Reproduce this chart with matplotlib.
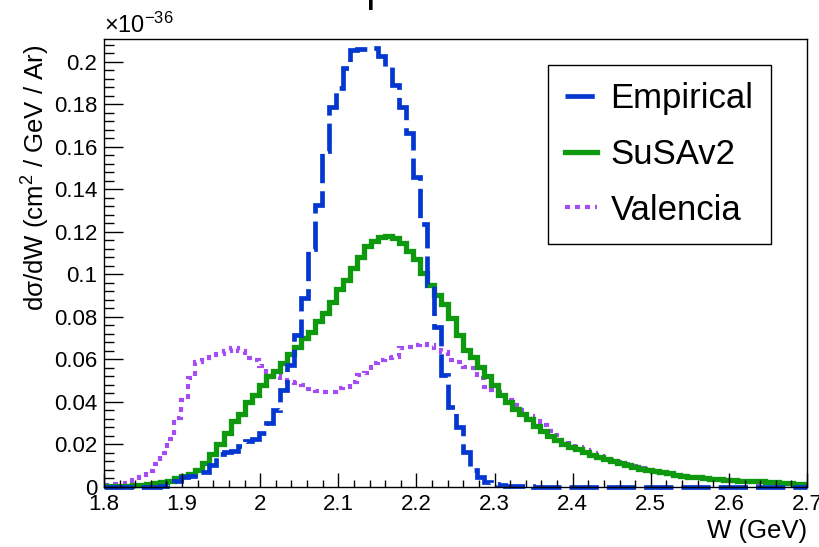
import numpy as np
import matplotlib
matplotlib.use("Agg")
import matplotlib.pyplot as plt
import matplotlib.ticker as ticker

plt.rcParams['font.family'] = ['Liberation Sans', 'DejaVu Sans']
plt.rcParams['mathtext.fontset'] = 'custom'
plt.rcParams['mathtext.rm'] = 'Liberation Sans'
plt.rcParams['mathtext.it'] = 'Liberation Sans:italic'

# binning: 100 bins from 1.8 to 2.7 GeV
w_lo, w_hi, n_bins = 1.8, 2.7, 100

# d sigma / dW in units of 1e-36 cm^2/GeV/Ar
empirical = [
    0, 0, 0, 0, 0, 0, 0.0001, 0.0002, 0.0005, 0.0015,
    0.0028, 0.0045, 0.005, 0.007, 0.0072, 0.0105, 0.0155, 0.0165, 0.017, 0.0195,
    0.0215, 0.0225, 0.0256, 0.030, 0.036, 0.0457, 0.0574, 0.0717, 0.089, 0.112,
    0.1327, 0.158, 0.179, 0.1876, 0.197, 0.2056, 0.206, 0.206, 0.2067, 0.203,
    0.1978, 0.189, 0.179, 0.1666, 0.146, 0.1238, 0.095, 0.0754, 0.0527, 0.0378,
    0.0284, 0.0166, 0.008, 0.0045, 0.0025, 0.0012, 0.0008, 0.0006, 0.0004, 0.0003,
    0.0003, 0.0002, 0.0002, 0.0001, 0.0001, 0.0001, 0.0001, 0.0001, 0, 0,
    0, 0, 0, 0, 0, 0, 0, 0, 0, 0,
    0, 0, 0, 0, 0, 0, 0, 0, 0, 0,
    0, 0, 0, 0, 0, 0, 0, 0, 0, 0,
]

susav2 = [
    0.0003, 0.0004, 0.0005, 0.0006, 0.0008, 0.001, 0.0014, 0.0018, 0.0024, 0.003,
    0.004, 0.0052, 0.0063, 0.0082, 0.0113, 0.0155, 0.020, 0.0255, 0.031, 0.0345,
    0.040, 0.0435, 0.048, 0.052, 0.0545, 0.0585, 0.0625, 0.066, 0.070, 0.073,
    0.078, 0.082, 0.087, 0.093, 0.0975, 0.103, 0.108, 0.1134, 0.1158, 0.1175,
    0.118, 0.1172, 0.115, 0.111, 0.1075, 0.1005, 0.095, 0.0905, 0.086, 0.0795,
    0.0715, 0.0645, 0.061, 0.0565, 0.052, 0.048, 0.0435, 0.040, 0.0365, 0.0342,
    0.0318, 0.0286, 0.0265, 0.024, 0.0223, 0.0203, 0.019, 0.0177, 0.0163, 0.015,
    0.014, 0.013, 0.0122, 0.0112, 0.0102, 0.0093, 0.0086, 0.008, 0.0075, 0.0069,
    0.0064, 0.0058, 0.0051, 0.0047, 0.0045, 0.0042, 0.0039, 0.0036, 0.0034, 0.0032,
    0.003, 0.0029, 0.0027, 0.0026, 0.0024, 0.0022, 0.002, 0.0018, 0.0016, 0.0015,
]

valencia = [
    0.001, 0.0012, 0.0015, 0.002, 0.0033, 0.0049, 0.0075, 0.0108, 0.016, 0.0226,
    0.0325, 0.041, 0.0513, 0.059, 0.0607, 0.0621, 0.0626, 0.0641, 0.0654, 0.064,
    0.0607, 0.0598, 0.057, 0.054, 0.052, 0.0505, 0.0496, 0.049, 0.048, 0.046,
    0.0452, 0.0446, 0.0446, 0.0466, 0.047, 0.0496, 0.0527, 0.0536, 0.0583, 0.0598,
    0.0607, 0.0613, 0.0654, 0.066, 0.0668, 0.0673, 0.0668, 0.0645, 0.0637, 0.0598,
    0.059, 0.0566, 0.056, 0.0513, 0.047, 0.0456, 0.0445, 0.041, 0.0385, 0.036,
    0.0335, 0.031, 0.029, 0.0265, 0.0245, 0.022, 0.0205, 0.019, 0.0175, 0.016,
    0.0148, 0.0136, 0.0125, 0.0116, 0.0108, 0.0098, 0.009, 0.0082, 0.0074, 0.0068,
    0.0062, 0.0056, 0.0052, 0.0048, 0.0045, 0.0042, 0.0038, 0.0035, 0.0032, 0.0029,
    0.0026, 0.0023, 0.0021, 0.0019, 0.0017, 0.0015, 0.0013, 0.0012, 0.001, 0.0009,
]

labels = ['Empirical', 'SuSAv2', 'Valencia']
y_max = 0.2108

edges = np.linspace(w_lo, w_hi, n_bins + 1)

fig = plt.figure(figsize=(8.19, 5.47), dpi=100)
ax = fig.add_axes([104/819, 60/547, 703/819, 448/547])

h_val = ax.stairs(valencia, edges, baseline=None, color='#a54cf5', lw=3.0,
                  linestyle=(0, (1.2, 1.2)), clip_on=False)
h_sus = ax.stairs(susav2, edges, baseline=None, color='#0f990f', lw=3.8,
                  clip_on=False)
h_emp = ax.stairs(empirical, edges, baseline=None, color='#0437d0', lw=3.4,
                  linestyle=(0, (6.2, 1.7)), clip_on=False)

ax.set_xlim(w_lo, w_hi)
ax.set_ylim(0, y_max)

ax.xaxis.set_major_locator(ticker.MultipleLocator(0.1))
ax.xaxis.set_minor_locator(ticker.MultipleLocator(0.02))
ax.yaxis.set_major_locator(ticker.MultipleLocator(0.02))
ax.yaxis.set_minor_locator(ticker.MultipleLocator(0.004))
fmt = ticker.FuncFormatter(lambda v, p: '%g' % round(v, 4))
ax.xaxis.set_major_formatter(fmt)
ax.yaxis.set_major_formatter(fmt)

ax.tick_params(axis='both', which='both', direction='in', top=False, right=False,
               labelsize=16, width=1.0)
ax.tick_params(axis='y', which='major', length=14, pad=5)
ax.tick_params(axis='y', which='minor', length=7)
ax.tick_params(axis='x', which='major', length=10, pad=5)
ax.tick_params(axis='x', which='minor', length=5)
for s in ax.spines.values():
    s.set_linewidth(1.0)

ax.text(0, 1.002, r'$\times$10$^{\mathregular{-36}}$', transform=ax.transAxes,
        ha='left', va='bottom', fontsize=17)

fig.text(36/819, 1 - 45/547, 'd\u03c3/dW (cm$^{\\mathregular{2}}$ / GeV / Ar)',
         rotation=90, ha='center', va='top', fontsize=18.5)
fig.text(807/819, 1 - 531/547, 'W (GeV)', ha='right', va='center', fontsize=18.5)

# clipped title remnant at the top edge
fig.text(371/819, 1 - 10/547, '|', ha='center', va='bottom', fontsize=32)

leg = ax.legend([h_emp, h_sus, h_val], labels, loc='upper left',
                bbox_to_anchor=(444/703, 422/448), fontsize=25, frameon=True,
                fancybox=False, edgecolor='black', framealpha=1, borderpad=0.5,
                handlelength=0.9, handletextpad=0.4, labelspacing=0.65,
                borderaxespad=0)
leg.get_frame().set_linewidth(1.0)

fig.savefig('out.png', dpi=100)
